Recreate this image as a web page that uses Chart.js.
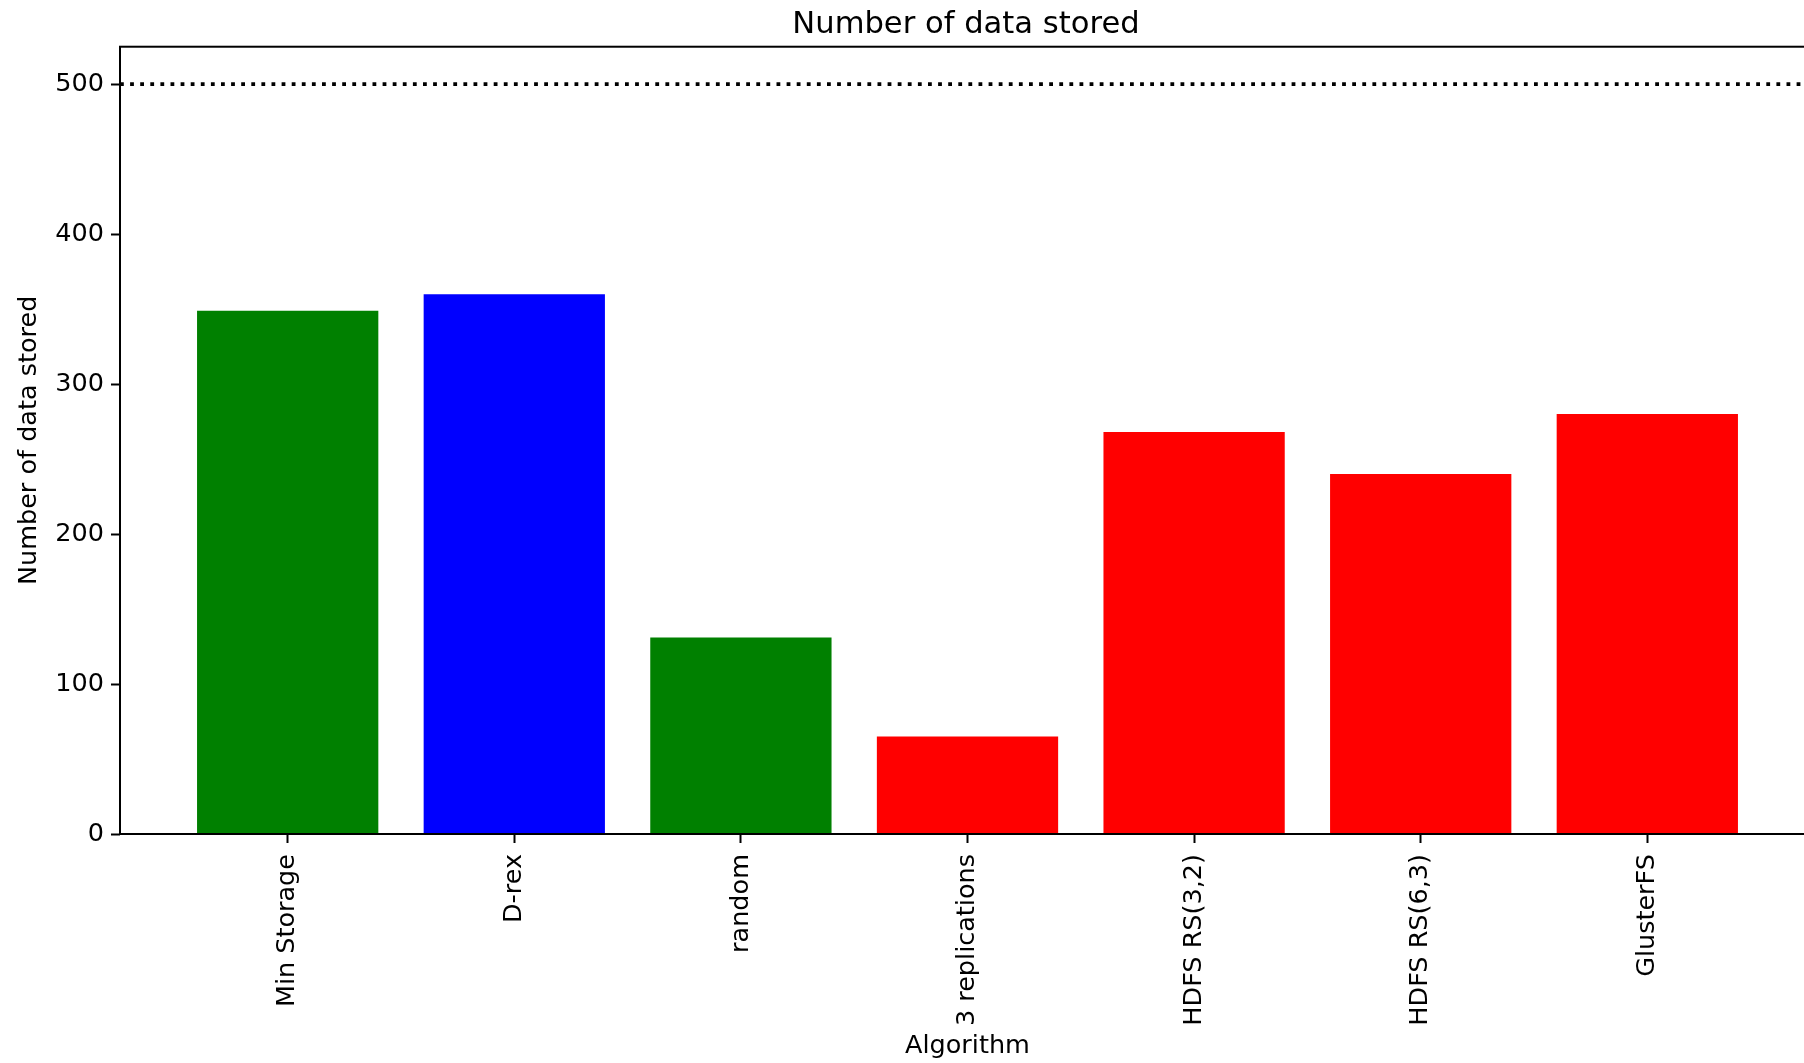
<!DOCTYPE html>
<html lang="en">
<head>
    <meta charset="UTF-8">
    <title>Number of data stored</title>
    <script src="https://cdn.jsdelivr.net/npm/chart.js"></script>
    <style>
        body {
            margin: 0;
            background-color: #fff;
            overflow: hidden;
        }
        canvas {
            display: block;
        }
    </style>
</head>
<body>
    <canvas id="storedChart" width="1932" height="1063"></canvas>
    <script>
        // data
        const algorithms = ['Min Storage', 'D-rex', 'random', '3 replications', 'HDFS RS(3,2)', 'HDFS RS(6,3)', 'GlusterFS'];
        const dataStored = [349, 360, 131, 65, 268, 240, 280];
        const yTicks = [0, 100, 200, 300, 400, 500];
        const yMax = 525;
        const capacityLine = 500;

        // bar colours (matplotlib named colours)
        const barColors = ['green', 'blue', 'green', 'red', 'red', 'red', 'red'];

        const font = 'DejaVu Sans';
        // matplotlib style x margins: bar half width + 5% of span
        const xPad = 0.4 + 0.05 * (algorithms.length - 1 + 0.8);

        // dotted reference line at 500 and the axes frame
        const framePlugin = {
            id: 'framePlugin',
            afterDatasetsDraw(chart) {
                const { ctx, chartArea, scales } = chart;
                const yPix = scales.y.getPixelForValue(capacityLine);
                ctx.save();
                ctx.strokeStyle = '#000';
                ctx.lineWidth = 3.8;
                ctx.lineCap = 'butt';
                ctx.setLineDash([3.8, 6.3]);
                ctx.beginPath();
                ctx.moveTo(chartArea.left, yPix);
                ctx.lineTo(chartArea.right, yPix);
                ctx.stroke();
                ctx.restore();
            },
            afterDraw(chart) {
                const { ctx, chartArea } = chart;
                ctx.save();
                ctx.strokeStyle = '#000';
                ctx.lineWidth = 2;
                ctx.strokeRect(chartArea.left, chartArea.top, chartArea.right - chartArea.left, chartArea.bottom - chartArea.top);
                ctx.restore();
            }
        };

        const ctx = document.getElementById('storedChart').getContext('2d');
        new Chart(ctx, {
            type: 'bar',
            data: {
                datasets: [{
                    label: 'Number of data stored',
                    data: algorithms.map((a, i) => ({ x: i, y: dataStored[i] })),
                    backgroundColor: barColors,
                    borderWidth: 0,
                    barPercentage: 0.8,
                    categoryPercentage: 1.0
                }]
            },
            options: {
                responsive: false,
                animation: false,
                devicePixelRatio: 1,
                layout: {
                    padding: 0
                },
                plugins: {
                    legend: { display: false },
                    tooltip: { enabled: false },
                    title: {
                        display: true,
                        text: 'Number of data stored',
                        color: '#000',
                        font: { family: font, size: 30.6, weight: 'normal' },
                        padding: { top: 6.5, bottom: 3.5 }
                    }
                },
                scales: {
                    x: {
                        type: 'linear',
                        offset: false,
                        min: -xPad,
                        max: algorithms.length - 1 + xPad,
                        afterBuildTicks: scale => {
                            scale.ticks = algorithms.map((a, i) => ({ value: i }));
                        },
                        afterFit: scale => {
                            scale.height = 229;
                        },
                        border: { display: false },
                        grid: {
                            display: true,
                            offset: false,
                            drawOnChartArea: false,
                            drawTicks: true,
                            tickLength: 9,
                            tickWidth: 2,
                            tickColor: '#000'
                        },
                        ticks: {
                            autoSkip: false,
                            minRotation: 90,
                            maxRotation: 90,
                            padding: 11,
                            color: '#000',
                            font: { family: font, size: 25.5 },
                            callback: value => algorithms[value]
                        },
                        title: {
                            display: true,
                            text: 'Algorithm',
                            color: '#000',
                            font: { family: font, size: 25.5 },
                            padding: { top: 0, bottom: 1 }
                        }
                    },
                    y: {
                        min: 0,
                        max: yMax,
                        afterBuildTicks: scale => {
                            scale.ticks = yTicks.map(v => ({ value: v }));
                        },
                        afterFit: scale => {
                            scale.width = 120;
                        },
                        border: { display: false },
                        grid: {
                            display: true,
                            drawOnChartArea: false,
                            drawTicks: true,
                            tickLength: 9,
                            tickWidth: 2,
                            tickColor: '#000'
                        },
                        ticks: {
                            padding: 7,
                            color: '#000',
                            font: { family: font, size: 25.5 }
                        },
                        title: {
                            display: true,
                            text: 'Number of data stored',
                            color: '#000',
                            font: { family: font, size: 25.5 },
                            padding: { top: 14, bottom: 0 }
                        }
                    },
                    // empty right-hand box: the axes run past the right edge of the window
                    yRight: {
                        position: 'right',
                        min: 0,
                        max: yMax,
                        afterFit: scale => {
                            scale.width = 117;
                        },
                        border: { display: false },
                        grid: { display: false },
                        ticks: { display: false }
                    }
                }
            },
            plugins: [framePlugin]
        });
    </script>
</body>
</html>
